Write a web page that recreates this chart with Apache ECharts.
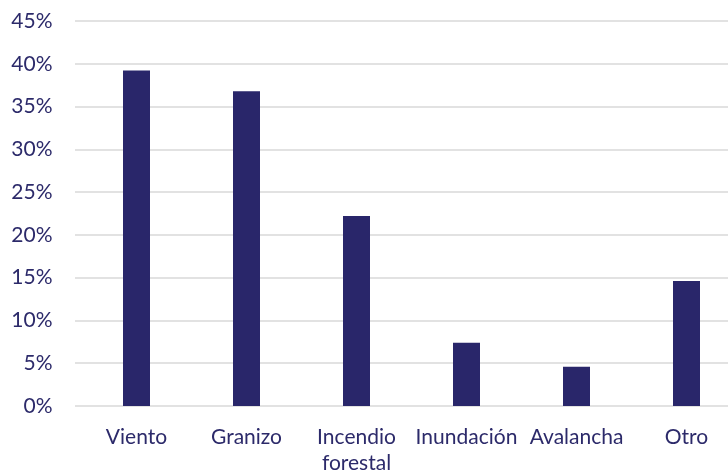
<!DOCTYPE html>
<html>
<head>
<meta charset="utf-8">
<script src="https://cdn.jsdelivr.net/npm/echarts@6/dist/echarts.min.js"></script>
<style>html,body{margin:0;padding:0;background:#fff}#c{width:728px;height:473px}</style>
</head>
<body>
<div id="c"></div>
<script>
const categories = ['Viento', 'Granizo', 'Incendio\nforestal', 'Inundación', 'Avalancha', 'Otro'];
const values = [39.2, 36.8, 22.2, 7.4, 4.6, 14.6];
const yTicks = { min: 0, max: 45, interval: 5 };

const textColor = '#2c2a6a';
const chart = echarts.init(document.getElementById('c'));
chart.setOption({
  animation: false,
  grid: [
    { left: 75, right: 0, top: 21, bottom: 67, containLabel: false, outerBoundsMode: 'none' },
    { left: 81.5, width: 660, top: 21, bottom: 67, containLabel: false, outerBoundsMode: 'none' }
  ],
  xAxis: [
    { type: 'category', gridIndex: 0, data: categories, show: false },
    {
      type: 'category',
      gridIndex: 1,
      data: categories,
      axisLine: { show: false },
      axisTick: { show: false },
      axisLabel: { color: textColor, fontFamily: 'Lato', fontSize: 21, margin: 18, lineHeight: 26, interval: 0 }
    }
  ],
  yAxis: [
    {
      type: 'value',
      gridIndex: 0,
      min: yTicks.min, max: yTicks.max, interval: yTicks.interval,
      axisLine: { show: false },
      axisTick: { show: false },
      splitLine: { lineStyle: { color: '#d9d9d9', width: 1.5 } },
      axisLabel: { color: textColor, fontFamily: 'Lato', fontSize: 21, margin: 22.5, formatter: v => v + '%', padding: [7, 0, 0, 0] }
    },
    {
      type: 'value',
      gridIndex: 1,
      min: yTicks.min, max: yTicks.max, interval: yTicks.interval,
      show: false,
      splitLine: { show: false }
    }
  ],
  series: [{
    type: 'bar',
    xAxisIndex: 1,
    yAxisIndex: 1,
    data: values,
    barWidth: 27,
    itemStyle: { color: '#29266a' }
  }]
});
</script>
</body>
</html>
